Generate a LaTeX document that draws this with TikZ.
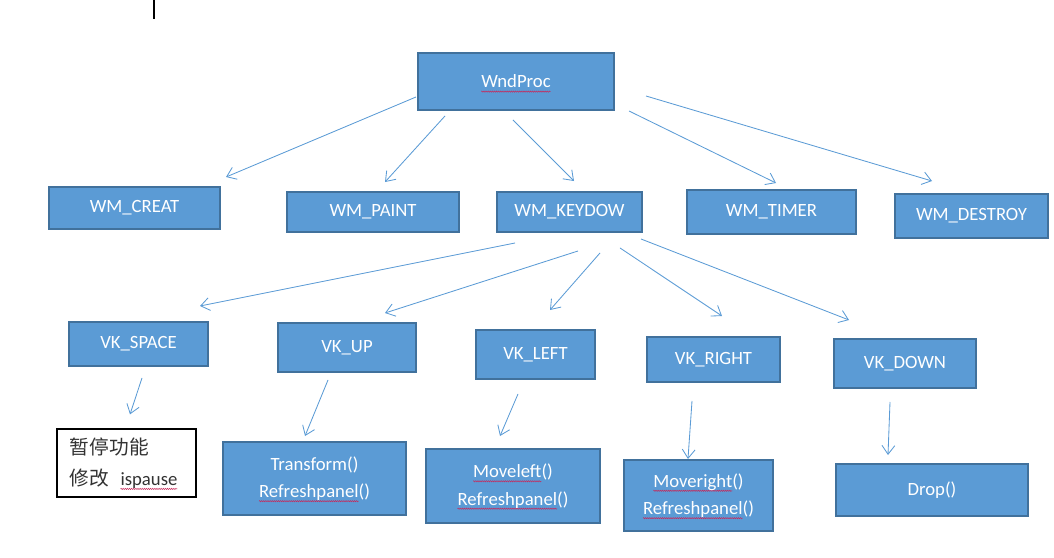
\documentclass[tikz,border=0pt]{standalone}
\usepackage{fontspec}
\setmainfont{Carlito}
\newfontfamily\cjk{Noto Sans CJK SC}
\usetikzlibrary{arrows.meta,positioning,calc,decorations.pathmorphing}
\definecolor{boxfill}{RGB}{91,155,213}
\definecolor{boxline}{RGB}{65,113,156}
\definecolor{linkblue}{RGB}{91,155,213}
\definecolor{spellred}{RGB}{200,40,90}
\newlength{\spellwd}
\newcommand{\spell}[1]{\settowidth{\spellwd}{#1}\rlap{\tikz[overlay, baseline=0pt]
 \draw[spellred, line width=0.35pt, decorate, decoration={zigzag, segment length=1.5pt, amplitude=0.45pt}]
 (0pt, -2.6pt) -- (\spellwd, -2.6pt);}#1}

\begin{document}
\begin{tikzpicture}[x=0.025cm, y=-0.025cm, >={Straight Barb[length=2.2mm,width=3.2mm]},
 box/.style={draw=boxline, fill=boxfill, line width=1.4pt, text=white, inner sep=0pt,
  align=center, font=\fontsize{13.3}{19.5}\selectfont},
 link/.style={->, draw=linkblue, line width=0.6pt}]
 \useasboundingbox (0, 0) rectangle (1054, 558);
 % caret left in the screenshot
 \draw[line width=1.2pt] (154, 0) -- (154, 19);
 \node[box, minimum width=4.9cm, minimum height=1.425cm] (wndproc) at (516, 81.5) {\spell{WndProc}};
 \node[box, minimum width=4.275cm, minimum height=1.05cm] (creat) at (134.5, 208) {WM\_CREAT};
 \node[box, minimum width=4.3cm, minimum height=1.0cm] (paint) at (373, 212) {WM\_PAINT};
 \node[box, minimum width=3.625cm, minimum height=1.0cm] (keydown) at (569.5, 212) {WM\_KEYDOW};
 \node[box, minimum width=4.225cm, minimum height=1.1cm] (timer) at (771.5, 212) {WM\_TIMER};
 \node[box, minimum width=3.825cm, minimum height=1.1cm] (destroy) at (971.5, 216) {WM\_DESTROY};
 \node[box, minimum width=3.475cm, minimum height=1.1cm] (space) at (138.5, 344) {VK\_SPACE};
 \node[box, minimum width=3.45cm, minimum height=1.225cm] (up) at (347, 347.5) {VK\_UP};
 \node[box, minimum width=2.975cm, minimum height=1.225cm] (left) at (535.5, 354.5) {VK\_LEFT};
 \node[box, minimum width=3.325cm, minimum height=1.125cm] (right) at (713.5, 359.5) {VK\_RIGHT};
 \node[box, minimum width=3.55cm, minimum height=1.225cm] (down) at (905, 363.5) {VK\_DOWN};
 \node[box, draw=black, fill=white, text=black!80, line width=0.9pt, align=left,
  font=\fontsize{13.3}{22}\selectfont, inner xsep=0.325cm, text width=2.825cm,
  minimum height=1.7cm] (pause) at (126.5, 463)
  {{\cjk\fontsize{14}{22}\selectfont 暂停功能}\\{\cjk\fontsize{14}{22}\selectfont 修改}\hspace{0.6em}\spell{ispause}};
 \node[box, minimum width=4.575cm, minimum height=1.825cm] (transform) at (314.5, 478.5) {Transform()\\\spell{Refreshpanel}()};
 \node[box, minimum width=4.35cm, minimum height=1.85cm] (moveleft) at (513, 486) {\spell{Moveleft}()\\\spell{Refreshpanel}()};
 \node[box, minimum width=3.725cm, minimum height=1.775cm] (moveright) at (698.5, 495.5) {\spell{Moveright}()\\\spell{Refreshpanel}()};
 \node[box, minimum width=4.8cm, minimum height=1.3cm] (drop) at (932, 490) {Drop()};
 % messages
 \draw[link] ($(wndproc.west)+(-1, 15.5)$) -- ($(creat.north east)+(5, -9)$);
 \draw[link] ($(wndproc.south west)+(28, 5)$) -- ($(paint.north)+(12, -9)$);
 \draw[link] ($(wndproc.south)+(-3, 9)$) -- ($(keydown.north)+(4.5, -10)$);
 \draw[link] ($(wndproc.south east)+(14, 0)$) -- ($(timer.north)+(4.5, -6)$);
 \draw[link] ($(wndproc.east)+(31, 14.5)$) -- ($(destroy.north)+(-39.5, -12)$);
 % keys
 \draw[link] ($(keydown.south)+(-54.5, 10)$) -- ($(space.north east)+(-9, -15)$);
 \draw[link] ($(keydown.south)+(8.5, 18)$) -- ($(up.north)+(38, -9)$);
 \draw[link] ($(keydown.south)+(30.5, 20)$) -- ($(left.north)+(14.5, -19)$);
 \draw[link] ($(keydown.south)+(50.5, 15)$) -- ($(right.north)+(8.5, -20)$);
 \draw[link] ($(keydown.south east)+(-2, 6)$) -- ($(down.north)+(-56, -18)$);
 % actions
 \draw[link] ($(space.south)+(3.5, 11)$) -- ($(pause.north)+(3.5, -14)$);
 \draw[link] ($(up.south)+(-19, 7)$) -- ($(transform.north)+(-9.5, -5)$);
 \draw[link] ($(left.south)+(-17.5, 14)$) -- ($(moveleft.north)+(-13, -12)$);
 \draw[link] ($(right.south)+(-21.5, 18)$) -- ($(moveright.north)+(-10.5, 0)$);
 \draw[link] ($(down.south)+(-15, 13)$) -- ($(drop.north)+(-44, -8)$);
\end{tikzpicture}
\end{document}
